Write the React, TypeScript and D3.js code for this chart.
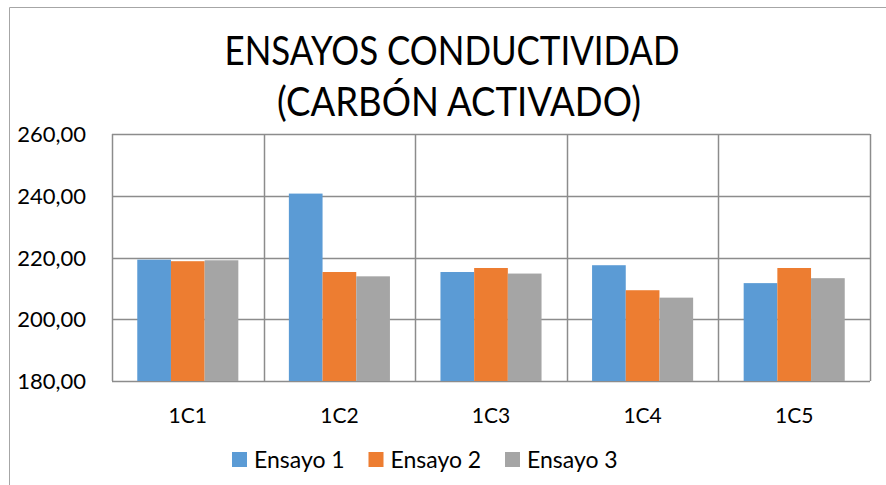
import * as d3 from "d3";

const categories = ["1C1", "1C2", "1C3", "1C4", "1C5"];
const seriesNames = ["Ensayo 1", "Ensayo 2", "Ensayo 3"];
const ensayo1 = [219.3, 240.7, 215.3, 217.5, 211.7];
const ensayo2 = [218.8, 215.3, 216.6, 209.4, 216.6];
const ensayo3 = [219.1, 213.9, 214.8, 207.0, 213.3];
const yTicks = [180, 200, 220, 240, 260];
const colors = ["#5B9BD5", "#ED7D31", "#A5A5A5"];

const W = 886;
const H = 485;
const plot = { left: 112, right: 870, top: 134, bottom: 381 };
const font = "Lato, 'Open Sans', sans-serif";

export default function App() {
  const series = [ensayo1, ensayo2, ensayo3];

  const x = d3
    .scaleBand<string>()
    .domain(categories)
    .range([plot.left, plot.right])
    .padding(0);
  const bw = x.bandwidth();
  // gap width 150% like the excel default
  const barW = bw / 4.5;
  const xs = d3
    .scaleBand<string>()
    .domain(seriesNames)
    .range([(bw - 3 * barW) / 2, (bw + 3 * barW) / 2]);

  const y = d3.scaleLinear().domain([180, 260]).range([plot.bottom, plot.top]);

  const legendX = d3.scalePoint<string>().domain(seriesNames).range([232, 505]);

  return (
    <svg
      width={W}
      height={H}
      style={{ position: "absolute", left: 0, top: 0, background: "#fff" }}
    >
      <path d={`M9.5,${H} V7.5 H${W}`} fill="none" stroke="#a6a6a6" strokeWidth={1} />

      <text
        x={452}
        y={65}
        textAnchor="middle"
        fontFamily={font}
        fontSize={40}
        textLength={455}
        lengthAdjust="spacingAndGlyphs"
        fill="#000"
      >
        ENSAYOS CONDUCTIVIDAD
      </text>
      <text
        x={459}
        y={116}
        textAnchor="middle"
        fontFamily={font}
        fontSize={40}
        textLength={364}
        lengthAdjust="spacingAndGlyphs"
        fill="#000"
      >
        (CARBÓN ACTIVADO)
      </text>

      {/* gridlines */}
      {yTicks.map((t) => (
        <line
          key={t}
          x1={plot.left}
          x2={plot.right}
          y1={Math.round(y(t)) + 0.5}
          y2={Math.round(y(t)) + 0.5}
          stroke="#8c8c8c"
          strokeWidth={1.5}
        />
      ))}
      {categories.map((c) => (
        <line
          key={c}
          x1={Math.round(x(c)!) + 0.5}
          x2={Math.round(x(c)!) + 0.5}
          y1={plot.top}
          y2={plot.bottom}
          stroke="#8c8c8c"
          strokeWidth={1.5}
        />
      ))}
      <line
        x1={plot.right + 0.5}
        x2={plot.right + 0.5}
        y1={plot.top}
        y2={plot.bottom}
        stroke="#8c8c8c"
        strokeWidth={1.5}
      />

      {/* bars */}
      {categories.map((c, i) => (
        <g key={c} transform={`translate(${x(c)},0)`}>
          {series.map((s, j) => (
            <rect
              key={j}
              x={xs(seriesNames[j])}
              y={y(s[i])}
              width={xs.bandwidth()}
              height={y(180) - y(s[i])}
              fill={colors[j]}
            />
          ))}
        </g>
      ))}

      {/* y labels */}
      {yTicks.map((t) => (
        <text
          key={t}
          x={86}
          y={y(t) + 8}
          textAnchor="end"
          fontFamily={font}
          fontSize={22}
          fill="#000"
        >
          {d3.format(".2f")(t).replace(".", ",")}
        </text>
      ))}

      {/* x labels */}
      {categories.map((c) => (
        <text
          key={c}
          x={x(c)! + bw / 2}
          y={423}
          textAnchor="middle"
          fontFamily={font}
          fontSize={21}
          fill="#000"
        >
          {c}
        </text>
      ))}

      {/* legend */}
      {seriesNames.map((n, j) => (
        <g key={n} transform={`translate(${legendX(n)},452)`}>
          <rect width={15} height={15} fill={colors[j]} />
          <text x={22} y={16} fontFamily={font} fontSize={23} fill="#000">
            {n}
          </text>
        </g>
      ))}
    </svg>
  );
}
